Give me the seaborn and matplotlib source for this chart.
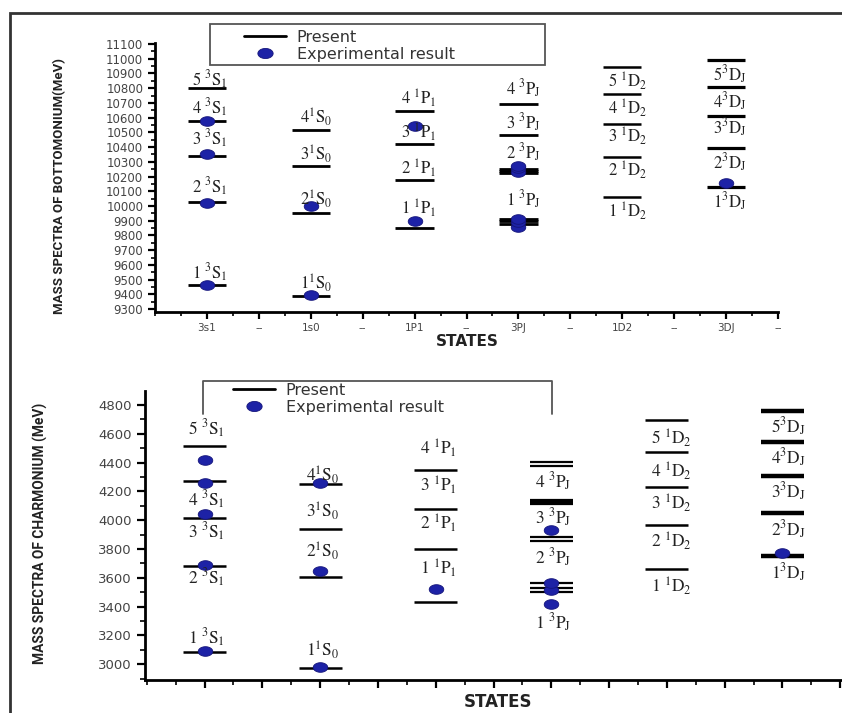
import numpy as np
import pandas as pd
import matplotlib
matplotlib.use("Agg")
import matplotlib.pyplot as plt
import seaborn as sns
from matplotlib.path import Path
from matplotlib.lines import Line2D
from matplotlib.patches import Rectangle
from matplotlib.ticker import MultipleLocator

# ---------------- data ----------------
STATES = ["3S1", "1S0", "1P1", "3PJ", "1D2", "3DJ"]
TICK_LABELS = ["3s1", "--", "1s0", "--", "1P1", "--", "3PJ", "--", "1D2", "--", "3DJ", "--"]

# Bottomonium: present (theory) levels, MeV
B_3S1 = [9460, 10030, 10340, 10575, 10800]
B_1S0 = [9390, 9950, 10273, 10515]
B_1P1 = [9848, 10175, 10420, 10645]
B_3PJ = [9880, 9895, 9910, 10222, 10237, 10252, 10482, 10692]
B_1D2 = [10063, 10334, 10554, 10758, 10946]
B_3DJ = [10131, 10391, 10611, 10806, 10991]
# Bottomonium: experimental
BX_3S1 = [9460, 10023, 10355, 10579]
BX_1S0 = [9395, 9999]
BX_1P1 = [9899, 10543]
BX_3PJ = [9859, 9893, 9912, 10232, 10255, 10269]
BX_1D2 = []
BX_3DJ = [10158]

# Charmonium: present (theory) levels, MeV
C_3S1 = [3087, 3684, 4013, 4274, 4515]
C_1S0 = [2972, 3603, 3938, 4251]
C_1P1 = [3434, 3798, 4076, 4349]
C_3PJ = [3503, 3527, 3562, 3857, 3880, 4110, 4125, 4140, 4375, 4406]
C_1D2 = [3659, 3967, 4233, 4472, 4696]
C_3DJ = [3751, 4047, 4306, 4541, 4758]
# Charmonium: experimental
CX_3S1 = [3094, 3689, 4041, 4260, 4418]
CX_1S0 = [2979, 3649, 4260]
CX_1P1 = [3522]
CX_3PJ = [3415, 3516, 3562, 3932]
CX_1D2 = []
CX_3DJ = [3770]

# state labels: (n, multiplicity, L, J)
B_LAB = {
    "3S1": [(5, 3, "S", 1), (4, 3, "S", 1), (3, 3, "S", 1), (2, 3, "S", 1), (1, 3, "S", 1)],
    "1S0": [(4, 1, "S", 0), (3, 1, "S", 0), (2, 1, "S", 0), (1, 1, "S", 0)],
    "1P1": [(4, 1, "P", 1), (3, 1, "P", 1), (2, 1, "P", 1), (1, 1, "P", 1)],
    "3PJ": [(4, 3, "P", "J"), (3, 3, "P", "J"), (2, 3, "P", "J"), (1, 3, "P", "J")],
    "1D2": [(5, 1, "D", 2), (4, 1, "D", 2), (3, 1, "D", 2), (2, 1, "D", 2), (1, 1, "D", 2)],
    "3DJ": [(5, 3, "D", "J"), (4, 3, "D", "J"), (3, 3, "D", "J"), (2, 3, "D", "J"), (1, 3, "D", "J")],
}
B_LAB_Y = {
    "3S1": [10860, 10670, 10455, 10130, 9545],
    "1S0": [10606, 10350, 10047, 9475],
    "1P1": [10730, 10500, 10258, 9985],
    "3PJ": [10793, 10563, 10358, 10040],
    "1D2": [10849, 10665, 10475, 10244, 9967],
    "3DJ": [10889, 10708, 10529, 10291, 10029],
}
C_LAB = B_LAB
C_LAB_Y = {
    "3S1": [4633, 4140, 3920, 3598, 3182],
    "1S0": [4309, 4059, 3781, 3099],
    "1P1": [4499, 4244, 3978, 3666],
    "3PJ": [4268, 4018, 3740, 3288],
    "1D2": [4569, 4337, 4117, 3851, 3538],
    "3DJ": [4649, 4430, 4194, 3932, 3635],
}

B_PRESENT = [B_3S1, B_1S0, B_1P1, B_3PJ, B_1D2, B_3DJ]
B_EXP = [BX_3S1, BX_1S0, BX_1P1, BX_3PJ, BX_1D2, BX_3DJ]
C_PRESENT = [C_3S1, C_1S0, C_1P1, C_3PJ, C_1D2, C_3DJ]
C_EXP = [CX_3S1, CX_1S0, CX_1P1, CX_3PJ, CX_1D2, CX_3DJ]

# ---------------- style ----------------
COL_X = [1, 3, 5, 7, 9, 11]
HALF_W = 0.37
DOT_COLOR = "#1d22a6"
DOT_EDGE = "#14147a"

sns.set_theme(style="white")
plt.rcParams['font.family'] = ['DejaVu Sans']
plt.rcParams['mathtext.fontset'] = 'stix'

W, H = 842, 713
fig = plt.figure(figsize=(W / 100, H / 100), dpi=100)
fig.patch.set_facecolor("white")


def fx(px):
    return px / W


def fy(py):
    return 1 - py / H


theta = np.linspace(0, 2 * np.pi, 60)
ELLIPSE = Path(np.column_stack([np.cos(theta), 0.66 * np.sin(theta)]), closed=True)


def label_text(n, mult, L, J, compact):
    gap = r"" if compact else r"\ "
    return rf"${n}{gap}^{{{mult}}}\mathrm{{{L}}}_{{\mathrm{{{J}}}}}$"


def draw_panel(ax, present, exp, labs, lab_y, lw_map, fsize, xoff):
    for i, st in enumerate(STATES):
        x = COL_X[i]
        lv = present[i]
        ax.hlines(lv, x - HALF_W, x + HALF_W, color="black", lw=lw_map.get(st, 1.6), zorder=2)
    rows = [(COL_X[i], m) for i in range(len(STATES)) for m in exp[i]]
    df = pd.DataFrame(rows, columns=["state_x", "mass"])
    sns.scatterplot(data=df, x="state_x", y="mass", ax=ax, marker=ELLIPSE, s=110,
                    color=DOT_COLOR, edgecolor=DOT_EDGE, linewidth=0.6, zorder=3, legend=False)
    for i, st in enumerate(STATES):
        compact = st in ("1S0", "3DJ")
        for (n, m, L, J), yy in zip(labs[st], lab_y[st]):
            ax.text(COL_X[i] + xoff[i], yy, label_text(n, m, L, J, compact), ha="center",
                    va="center", fontsize=fsize, color="#222222", zorder=4)
    ax.set_xlabel("")
    ax.set_ylabel("")
    for s in ("top", "right"):
        ax.spines[s].set_visible(False)
    for s in ("left", "bottom"):
        ax.spines[s].set_linewidth(2.0)
        ax.spines[s].set_color("black")
    ax.set_facecolor("white")


# ---------- top panel: bottomonium ----------
ax1 = fig.add_axes([fx(155), fy(311.7), fx(778) - fx(155), fy(43.3) - fy(311.7)])
draw_panel(ax1, B_PRESENT, B_EXP, B_LAB, B_LAB_Y,
           {"3S1": 2.0, "1S0": 2.0, "1P1": 2.0, "3PJ": 2.0, "1D2": 1.8, "3DJ": 2.3},
           12, [0.06, 0.1, 0.08, 0.1, 0.1, 0.08])
ax1.set_xlim(0, 12)
ax1.set_ylim(9282, 11105)
ax1.set_xticks(range(1, 13))
ax1.set_xticklabels(TICK_LABELS)
ax1.xaxis.set_minor_locator(MultipleLocator(0.5))
ax1.yaxis.set_major_locator(MultipleLocator(100))
ax1.yaxis.set_minor_locator(MultipleLocator(50))
ax1.tick_params(axis="both", which="major", direction="out", length=5, width=1.6,
                labelsize=8.5, labelcolor="#444444", color="black", bottom=True, left=True)
ax1.tick_params(axis="both", which="minor", direction="out", length=3, width=1.2,
                color="black", bottom=True, left=True)
ax1.tick_params(axis="x", labelsize=7.5, pad=3)

# ---------- bottom panel: charmonium ----------
ax2 = fig.add_axes([fx(145), fy(680), fx(842) - fx(145), fy(391) - fy(680)])
draw_panel(ax2, C_PRESENT, C_EXP, C_LAB, C_LAB_Y,
           {"3S1": 1.8, "1S0": 1.8, "1P1": 1.8, "3PJ": 1.6, "1D2": 1.8, "3DJ": 3.2},
           12.5, [0.03, 0.05, 0.04, 0.03, 0.07, 0.1])
ax2.set_xlim(-0.03, 12.03)
ax2.set_ylim(2890, 4897)
ax2.set_xticks(range(1, 13))
ax2.set_xticklabels([])
ax2.xaxis.set_minor_locator(MultipleLocator(0.5))
ax2.yaxis.set_major_locator(MultipleLocator(200))
ax2.yaxis.set_minor_locator(MultipleLocator(100))
ax2.tick_params(axis="both", which="major", direction="out", length=6, width=1.6,
                labelsize=9.5, labelcolor="#444444", color="black", bottom=True, left=True)
ax2.tick_params(axis="both", which="minor", direction="out", length=3.5, width=1.2,
                color="black", bottom=True, left=True)

# ---------- axis titles ----------
ytfont = ['Roboto', 'DejaVu Sans']
fig.text(fx(60), fy(186), "MASS SPECTRA OF BOTTOMONIUM(MeV)", rotation=90, ha="center",
         va="center", fontsize=9.5, fontweight="bold", family=ytfont, color="#222222")
fig.text(fx(40), fy(533), "MASS SPECTRA OF CHARMONIUM (MeV)", rotation=90, ha="center",
         va="center", fontsize=9.9, fontweight="bold", family=ytfont, color="#222222")
fig.text(fx(467), fy(342), "STATES", ha="center", va="center", fontsize=11,
         fontweight="bold", color="#222222")
fig.text(fx(498), fy(702), "STATES", ha="center", va="center", fontsize=12,
         fontweight="bold", color="#222222")

# ---------- legends ----------
handles = [Line2D([], [], color="black", lw=2.0),
           Line2D([], [], ls="", marker=ELLIPSE, ms=11, color=DOT_COLOR,
                  markeredgecolor=DOT_EDGE, markeredgewidth=0.6)]
names = ["Present", "Experimental result"]
leg1 = fig.legend(handles, names, loc="upper left", bbox_to_anchor=(fx(236), fy(22)),
                  frameon=False, fontsize=11.5, handlelength=2.6, handletextpad=0.7,
                  labelspacing=0.12, borderpad=0.0)
for t in leg1.get_texts():
    t.set_color("#333333")
leg2 = fig.legend(handles, names, loc="upper left", bbox_to_anchor=(fx(225), fy(375)),
                  frameon=False, fontsize=11.5, handlelength=2.6, handletextpad=0.7,
                  labelspacing=0.12, borderpad=0.0)
for t in leg2.get_texts():
    t.set_color("#333333")

# legend boxes
fig.add_artist(Rectangle((fx(210), fy(65)), fx(545) - fx(210), fy(24) - fy(65),
                         transform=fig.transFigure, fill=False, ec="#555555", lw=1.3))
fig.add_artist(Line2D([fx(203), fx(203), fx(552), fx(552)], [fy(414), fy(381), fy(381), fy(414)],
                      transform=fig.transFigure, color="#555555", lw=1.3))

# outer border
fig.add_artist(Rectangle((fx(10), fy(740)), 1.2, fy(13) - fy(740), transform=fig.transFigure,
                         fill=False, ec="#333333", lw=2.0))

fig.savefig("out.png", dpi=100, facecolor="white")
